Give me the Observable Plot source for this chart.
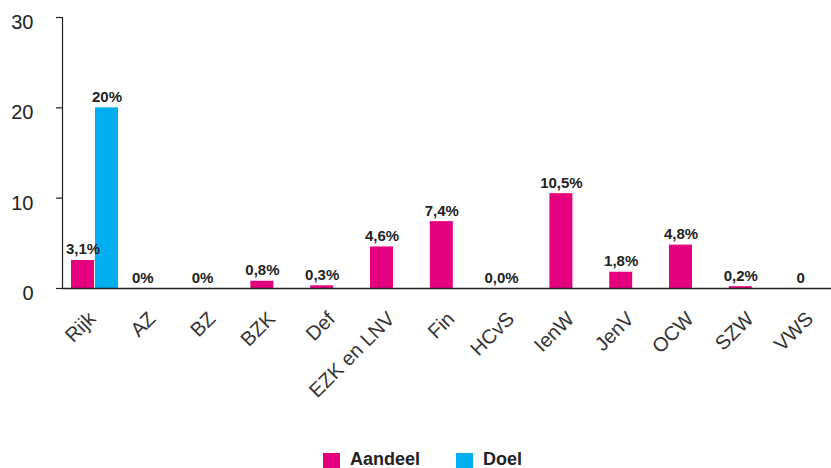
<!DOCTYPE html>
<html>
<head>
<meta charset="utf-8">
<script src="https://cdn.jsdelivr.net/npm/d3@7"></script>
<script src="https://cdn.jsdelivr.net/npm/@observablehq/plot@0.6"></script>
<style>
  html, body { margin: 0; padding: 0; background: #fff; overflow: hidden; }
  #wrap { position: relative; width: 831px; height: 468px; overflow: hidden; }
  #legend { position: absolute; left: 323px; top: 452px; display: flex; align-items: flex-start;
            font-family: "Liberation Sans", Arial, sans-serif; font-weight: bold; font-size: 18px;
            line-height: 15px; color: #222; }
  .item { display: flex; align-items: flex-start; margin-right: 36px; }
  .sw { width: 17px; height: 15px; margin-top: 1px; margin-right: 10px; }
</style>
</head>
<body>
<div id="wrap"><div id="chart"></div>
<div id="legend"></div></div>
<script>
const categories = ["Rijk","AZ","BZ","BZK","Def","EZK en LNV","Fin","HCvS","IenW","JenV","OCW","SZW","VWS"];
const aandeel = [3.1, 0, 0, 0.8, 0.3, 4.6, 7.4, 0.0, 10.5, 1.8, 4.8, 0.2, 0];
const aandeelLabels = ["3,1%","0%","0%","0,8%","0,3%","4,6%","7,4%","0,0%","10,5%","1,8%","4,8%","0,2%","0"];
const doelCategories = ["Rijk"];
const doel = [20];
const doelLabels = ["20%"];
const series = ["Aandeel", "Doel"];
const colors = ["#e5007e", "#00aeef"];
const yTicks = [0, 10, 20, 30];

const aData = categories.map((c, i) => ({cat: c, v: aandeel[i], label: aandeelLabels[i]}));
const dData = doelCategories.map((c, i) => ({cat: c, v: doel[i], label: doelLabels[i]}));

const step = 59.8, x0 = 71, bw = 23;
const ink = "#222";

const chart = Plot.plot({
  width: 831,
  height: 450,
  marginLeft: 62,
  marginRight: 0,
  marginTop: 17,
  marginBottom: 162,
  style: {fontFamily: "'Liberation Sans', Arial, sans-serif", color: ink, background: "#fff"},
  x: {type: "band", domain: categories, range: [x0, x0 + step * categories.length], padding: 0, round: false, axis: null},
  y: {domain: [0, 30], axis: null},
  marks: [
    Plot.barY(aData, {x: "cat", y: "v", fill: colors[0], insetLeft: 0, insetRight: step - bw}),
    Plot.barY(dData, {x: "cat", y: "v", fill: colors[1], insetLeft: bw + 1, insetRight: step - 2 * bw - 1}),
    Plot.text(aData, {x: "cat", y: "v", text: "label", dx: -(step / 2 - bw / 2), dy: -6, lineAnchor: "bottom",
      fontSize: 15, fontWeight: "bold", fill: ink}),
    Plot.text(dData, {x: "cat", y: "v", text: "label", dx: (bw + 1 + bw / 2) - step / 2, dy: -6, lineAnchor: "bottom",
      fontSize: 15, fontWeight: "bold", fill: ink}),
    Plot.axisY({ticks: yTicks, tickSize: 6, text: null, stroke: ink, strokeWidth: 1.2, label: null}),
    Plot.axisY({ticks: yTicks, tickSize: 0, tickPadding: 29, fontSize: 20, dy: 5, fill: ink, label: null}),
    Plot.frame({anchor: "left", stroke: ink, strokeWidth: 1.2}),
    Plot.ruleY([0], {stroke: ink, strokeWidth: 1.5}),
    Plot.axisX({tickRotate: -45, tickSize: 0, tickPadding: 27, dx: -9, fontSize: 20, fill: "#333", label: null})
  ]
});
document.getElementById("chart").appendChild(chart);

const legend = document.getElementById("legend");
series.forEach((s, i) => {
  const it = document.createElement("div");
  it.className = "item";
  it.innerHTML = `<div class="sw" style="background:${colors[i]}"></div><span>${s}</span>`;
  legend.appendChild(it);
});
</script>
</body>
</html>
